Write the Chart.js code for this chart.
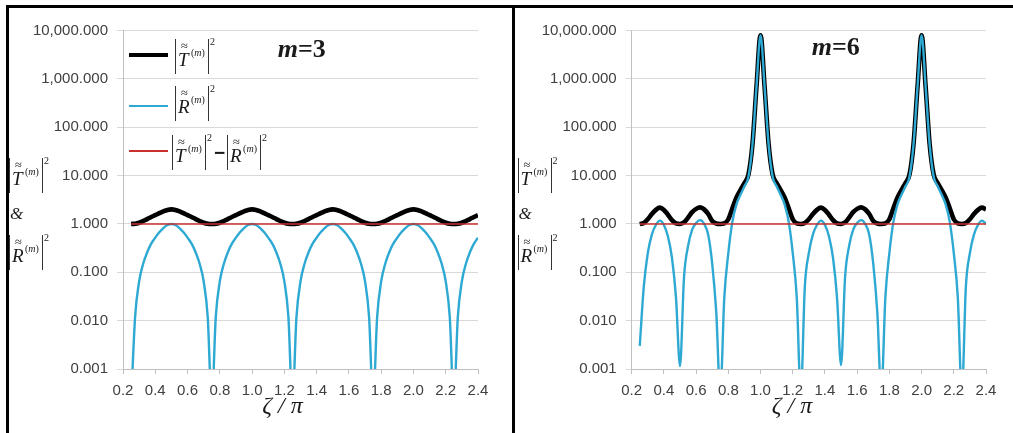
<!DOCTYPE html>
<html lang="en">
<head>
<meta charset="UTF-8">
<title>|T|^2 and |R|^2 versus zeta/pi, m=3 and m=6</title>
<script src="https://cdn.jsdelivr.net/npm/chart.js"></script>
<style>
  body { margin: 0; background: #fff; }
  #wrap { position: relative; width: 1013px; height: 433px; overflow: hidden; background: #fff; }
  canvas { position: absolute; top: 0; }
  .frame { position: absolute; background: #000; z-index: 5; }
  .swatch { position: absolute; }
  .txt { position: absolute; font-family: "Liberation Serif", "Times New Roman", serif; color: #1a1a1a; white-space: nowrap; line-height: 1; z-index: 4; }
  .grp { font-size: 19px; }
  .abs { position: relative; display: inline-block; width: 32px; height: 35px; border-left: 1.3px solid #333; border-right: 1.3px solid #333; vertical-align: top; }
  .abs .L { position: absolute; left: 2px; bottom: 5px; font-size: 19px; font-style: italic; }
  .abs .tl { position: absolute; left: 5px; top: 1px; font-size: 12.5px; }
  .abs .sm { position: absolute; left: 15px; top: 9px; font-size: 10px; }
  .sq { display: inline-block; vertical-align: top; font-size: 10px; margin: -2px 0 0 1px; }
  .minus { display: inline-block; vertical-align: top; font-weight: bold; font-size: 19px; font-family: "Liberation Sans", sans-serif; margin: 8px 2px 0 2px; }
  .ttl { font-weight: bold; font-size: 26px; }
  .axt { font-size: 24px; font-style: italic; text-align: center; width: 100px; }
</style>
</head>
<body>
<div id="wrap">
  <canvas id="left" width="510" height="433" style="left:0"></canvas>
  <canvas id="right" width="498" height="433" style="left:515px"></canvas>
</div>
<script>
// zeta / pi sample positions (shared by both panels)
const zeta = [
  0.25, 0.275, 0.3, 0.325, 0.35, 0.375, 0.4, 0.425, 0.45, 0.475,
  0.5, 0.525, 0.55, 0.575, 0.6, 0.625, 0.65, 0.675, 0.7, 0.725,
  0.75, 0.775, 0.8, 0.825, 0.85, 0.875, 0.9, 0.925, 0.95, 0.975,
  1.0, 1.025, 1.05, 1.075, 1.1, 1.125, 1.15, 1.175, 1.2, 1.225,
  1.25, 1.275, 1.3, 1.325, 1.35, 1.375, 1.4, 1.425, 1.45, 1.475,
  1.5, 1.525, 1.55, 1.575, 1.6, 1.625, 1.65, 1.675, 1.7, 1.725,
  1.75, 1.775, 1.8, 1.825, 1.85, 1.875, 1.9, 1.925, 1.95, 1.975,
  2.0, 2.025, 2.05, 2.075, 2.1, 2.125, 2.15, 2.175, 2.2, 2.225,
  2.25, 2.275, 2.3, 2.325, 2.35, 2.375, 2.4
];

// m = 3
const t2_m3 = [
  1.00, 1.01, 1.06, 1.15, 1.26, 1.39, 1.52, 1.67, 1.82, 1.95,
  2.00, 1.95, 1.82, 1.67, 1.52, 1.39, 1.26, 1.15, 1.06, 1.01,
  1.00, 1.01, 1.06, 1.15, 1.26, 1.39, 1.52, 1.67, 1.82, 1.95,
  2.00, 1.95, 1.82, 1.67, 1.52, 1.39, 1.26, 1.15, 1.06, 1.01,
  1.00, 1.01, 1.06, 1.15, 1.26, 1.39, 1.52, 1.67, 1.82, 1.95,
  2.00, 1.95, 1.82, 1.67, 1.52, 1.39, 1.26, 1.15, 1.06, 1.01,
  1.00, 1.01, 1.06, 1.15, 1.26, 1.39, 1.52, 1.67, 1.82, 1.95,
  2.00, 1.95, 1.82, 1.67, 1.52, 1.39, 1.26, 1.15, 1.06, 1.01,
  1.00, 1.01, 1.06, 1.15, 1.26, 1.39, 1.52
];
const r2_m3 = [
  0.0002, 0.012, 0.065, 0.15, 0.26, 0.39, 0.52, 0.67, 0.82, 0.95,
  1.00, 0.95, 0.82, 0.67, 0.52, 0.39, 0.26, 0.15, 0.065, 0.012,
  0.0002, 0.012, 0.065, 0.15, 0.26, 0.39, 0.52, 0.67, 0.82, 0.95,
  1.00, 0.95, 0.82, 0.67, 0.52, 0.39, 0.26, 0.15, 0.065, 0.012,
  0.0002, 0.012, 0.065, 0.15, 0.26, 0.39, 0.52, 0.67, 0.82, 0.95,
  1.00, 0.95, 0.82, 0.67, 0.52, 0.39, 0.26, 0.15, 0.065, 0.012,
  0.0002, 0.012, 0.065, 0.15, 0.26, 0.39, 0.52, 0.67, 0.82, 0.95,
  1.00, 0.95, 0.82, 0.67, 0.52, 0.39, 0.26, 0.15, 0.065, 0.012,
  0.0002, 0.012, 0.065, 0.15, 0.26, 0.39, 0.52
];

// m = 6
const t2_m6 = [
  1.00, 1.05, 1.25, 1.60, 1.95, 2.17, 1.95, 1.55, 1.20, 1.03,
  1.00, 1.08, 1.35, 1.75, 2.05, 2.20, 2.00, 1.60, 1.15, 1.02,
  1.00, 1.03, 1.25, 2.10, 3.5, 5.0, 7.0, 10.5, 45, 701,
  8001, 701, 45, 10.5, 7.0, 5.0, 3.5, 2.10, 1.25, 1.03,
  1.00, 1.05, 1.25, 1.60, 1.95, 2.17, 1.95, 1.55, 1.20, 1.03,
  1.00, 1.08, 1.35, 1.75, 2.05, 2.20, 2.00, 1.60, 1.15, 1.02,
  1.00, 1.03, 1.25, 2.10, 3.5, 5.0, 7.0, 10.5, 45, 701,
  8001, 701, 45, 10.5, 7.0, 5.0, 3.5, 2.10, 1.25, 1.03,
  1.00, 1.05, 1.25, 1.60, 1.95, 2.17, 2.00
];
const r2_m6 = [
  0.003, 0.05, 0.25, 0.60, 0.95, 1.17, 0.95, 0.55, 0.20, 0.03,
  0.00115, 0.08, 0.35, 0.75, 1.05, 1.20, 1.00, 0.60, 0.15, 0.015,
  0.0003, 0.03, 0.25, 1.10, 2.5, 4.0, 6.0, 9.5, 44, 700,
  8000, 700, 44, 9.5, 6.0, 4.0, 2.5, 1.10, 0.25, 0.03,
  0.0003, 0.05, 0.25, 0.60, 0.95, 1.17, 0.95, 0.55, 0.20, 0.03,
  0.0012, 0.08, 0.35, 0.75, 1.05, 1.20, 1.00, 0.60, 0.15, 0.015,
  0.0003, 0.03, 0.25, 1.10, 2.5, 4.0, 6.0, 9.5, 44, 700,
  8000, 700, 44, 9.5, 6.0, 4.0, 2.5, 1.10, 0.25, 0.03,
  0.0003, 0.05, 0.25, 0.60, 0.95, 1.17, 1.00
];

// |T|^2 - |R|^2
const diffZeta = [0.25, 2.4];
const diff_m3 = [1, 1];
const diff_m6 = [1, 1];

const xTicks = [0.2, 0.4, 0.6, 0.8, 1.0, 1.2, 1.4, 1.6, 1.8, 2.0, 2.2, 2.4];
const xTickLabels = ['0.2', '0.4', '0.6', '0.8', '1.0', '1.2', '1.4', '1.6', '1.8', '2.0', '2.2', '2.4'];
const yTicks = [0.001, 0.01, 0.1, 1, 10, 100, 1000, 10000];
const yTickLabels = ['0.001', '0.010', '0.100', '1.000', '10.000', '100.000', '1,000.000', '10,000.000'];

const BLACK = '#000000', CYAN = '#2ea9d3', RED = '#c8302c';
const tickFont = { family: 'Liberation Sans', size: 15 };

function pts(xs, ys) {
  return xs.map((x, i) => ({ x: x, y: ys[i] }));
}

function makePanel(id, t2, r2, diff, yWidth, padRight) {
  new Chart(document.getElementById(id), {
    type: 'line',
    data: {
      datasets: [
        { data: pts(zeta, t2), borderColor: BLACK, borderWidth: 4.6, order: 3 },
        { data: pts(zeta, r2), borderColor: CYAN, borderWidth: 2.4, order: 2 },
        { data: pts(diffZeta, diff), borderColor: RED, borderWidth: 1.6, order: 1 }
      ]
    },
    options: {
      responsive: false,
      animation: false,
      events: [],
      elements: {
        point: { radius: 0 },
        line: { tension: 0.4, cubicInterpolationMode: 'monotone', fill: false }
      },
      datasets: { line: { clip: 0 } },
      layout: { padding: { left: 0, right: padRight, top: 30.5, bottom: 24 } },
      plugins: { legend: { display: false }, tooltip: { enabled: false } },
      scales: {
        x: {
          type: 'linear', min: 0.2, max: 2.4,
          afterBuildTicks: s => { s.ticks = xTicks.map(v => ({ value: v })); },
          afterFit: s => { s.height = 40; },
          ticks: { callback: (v, i) => xTickLabels[i], font: tickFont, color: '#404040', padding: 8, maxRotation: 0, autoSkip: false },
          grid: { drawOnChartArea: false, drawTicks: true, tickLength: 5, color: '#bfbfbf' },
          border: { color: '#bfbfbf', width: 1 }
        },
        y: {
          type: 'logarithmic', min: 0.001, max: 10000,
          afterBuildTicks: s => { s.ticks = yTicks.map(v => ({ value: v })); },
          afterFit: s => { s.width = yWidth; },
          ticks: { callback: (v, i) => yTickLabels[i], font: tickFont, color: '#404040', padding: 9, autoSkip: false },
          grid: { color: '#d9d9d9', tickLength: 6 },
          border: { color: '#bfbfbf', width: 1 }
        }
      }
    }
  });
}

makePanel('left', t2_m3, r2_m3, diff_m3, 123, 32);
makePanel('right', t2_m6, r2_m6, diff_m6, 116.7, 27);

// ---- frame, legend, titles (HTML overlay) ----
const wrap = document.getElementById('wrap');
function add(cls, style, html) {
  const d = document.createElement('div');
  d.className = cls;
  d.style.cssText = style;
  if (html) d.innerHTML = html;
  wrap.appendChild(d);
  return d;
}
function absLabel(letter) {
  return '<span class="abs"><i class="L">' + letter + '</i><span class="tl">\u2248</span>' +
         '<span class="sm">(<i>m</i>)</span></span><span class="sq">2</span>';
}

add('frame', 'left:6px;top:5px;width:1007px;height:2.6px');
add('frame', 'left:6px;top:5px;width:2.6px;height:428px');
add('frame', 'left:512.3px;top:5px;width:2.7px;height:428px');

// legend (left panel)
add('swatch', 'left:129px;top:52.8px;width:39px;height:4.6px;background:' + BLACK);
add('swatch', 'left:129px;top:104.8px;width:39px;height:2.4px;background:' + CYAN);
add('swatch', 'left:129px;top:150px;width:39px;height:1.7px;background:' + RED);
add('txt grp', 'left:175px;top:39px', absLabel('T'));
add('txt grp', 'left:175px;top:86px', absLabel('R'));
add('txt grp', 'left:172px;top:135px', absLabel('T') + '<span class="minus">\u2212</span>' + absLabel('R'));

// panel titles
add('txt ttl', 'left:277.7px;top:36.3px', '<i>m</i>=3');
add('txt ttl', 'left:811.7px;top:33.7px', '<i>m</i>=6');

// y-axis titles
[0, 508.5].forEach(dx => {
  add('txt grp', 'left:' + (9 + dx) + 'px;top:158px', absLabel('T'));
  add('txt', 'left:' + (10 + dx) + 'px;top:205px;font-size:17px;font-style:italic', '&amp;');
  add('txt grp', 'left:' + (9 + dx) + 'px;top:235px', absLabel('R'));
});

// x-axis titles
add('txt axt', 'left:232.5px;top:392.6px', '\u03B6 / \u03C0');
add('txt axt', 'left:742px;top:392.6px', '\u03B6 / \u03C0');
</script>
</body>
</html>
